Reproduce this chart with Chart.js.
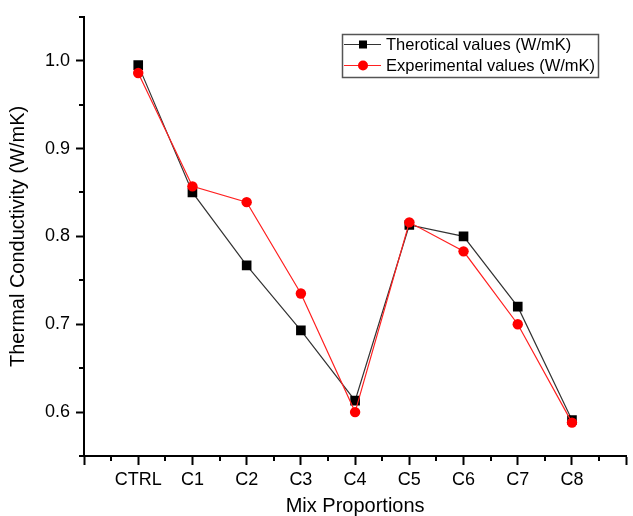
<!DOCTYPE html>
<html>
<head>
<meta charset="utf-8">
<script src="https://cdn.jsdelivr.net/npm/chart.js@4/dist/chart.umd.min.js"></script>
<style>
  html, body { margin: 0; padding: 0; background: #fff; }
  #wrap { width: 633px; height: 516px; }
</style>
</head>
<body>
<div id="wrap"><canvas id="myChart" width="633" height="516"></canvas></div>
<script>
const ctx = document.getElementById('myChart').getContext('2d');

const categories = ["CTRL", "C1", "C2", "C3", "C4", "C5", "C6", "C7", "C8"];
const theoretical = [0.995, 0.850, 0.767, 0.693, 0.613, 0.813, 0.800, 0.720, 0.591];
const experimental = [0.986, 0.857, 0.839, 0.735, 0.600, 0.816, 0.783, 0.700, 0.588];
const yTickLabels = ["0.6", "0.7", "0.8", "0.9", "1.0"];

const FONT = "'Liberation Sans', Arial, sans-serif";

// x runs one slot past each end, ticks every half slot
const xMin = -1, xMax = categories.length;
const yMin = 0.55, yMax = 1.05;

function isMajorX(v) { return Math.abs(v - Math.round(v)) < 1e-6; }
function isMajorY(v) { return yTickLabels.some(l => Math.abs(parseFloat(l) - v) < 1e-6); }

// short minor ticks drawn outside the axes
const minorTicks = {
    id: 'minorTicks',
    afterDraw(chart) {
        const c = chart.ctx;
        const xs = chart.scales.x, ys = chart.scales.y;
        c.save();
        c.strokeStyle = '#000';
        c.lineWidth = 2;
        c.beginPath();
        xs.ticks.forEach(t => {
            if (isMajorX(t.value)) return;
            const px = Math.round(xs.getPixelForValue(t.value));
            c.moveTo(px, xs.top);
            c.lineTo(px, xs.top + 5);
        });
        ys.ticks.forEach(t => {
            if (isMajorY(t.value)) return;
            const py = Math.round(ys.getPixelForValue(t.value));
            c.moveTo(ys.right, py);
            c.lineTo(ys.right - 5, py);
        });
        c.stroke();
        c.restore();
    }
};

// boxed legend in the upper right
const boxLegend = {
    id: 'boxLegend',
    afterDraw(chart) {
        const c = chart.ctx;
        const x0 = 342, y0 = 34, w = 256, h = 43;
        c.save();
        c.fillStyle = '#fff';
        c.fillRect(x0, y0, w, h);
        c.strokeStyle = '#555';
        c.lineWidth = 1.5;
        c.strokeRect(x0 + 0.5, y0 + 0.5, w, h);
        const rows = [
            { ds: chart.data.datasets[0], y: 44.5 },
            { ds: chart.data.datasets[1], y: 65.5 }
        ];
        c.font = '16.5px ' + FONT;
        c.textBaseline = 'middle';
        rows.forEach(r => {
            c.strokeStyle = r.ds.borderColor;
            c.lineWidth = 1;
            c.beginPath();
            c.moveTo(344, r.y);
            c.lineTo(381, r.y);
            c.stroke();
            c.fillStyle = r.ds.pointBackgroundColor;
            if (r.ds.pointStyle === 'rect') {
                c.fillRect(359, r.y - 4, 8, 8);
            } else {
                c.beginPath();
                c.arc(363, r.y, 5, 0, Math.PI * 2);
                c.fill();
            }
            c.fillStyle = '#000';
            c.fillText(r.ds.label, 386, r.y + 1);
        });
        c.restore();
    }
};

const data = {
    datasets: [{
        label: "Therotical values (W/mK)",
        data: theoretical.map((v, i) => ({ x: i, y: v })),
        borderColor: "#333",
        borderWidth: 1.2,
        pointStyle: 'rect',
        pointRadius: 6.8,
        pointBackgroundColor: "#000",
        pointBorderWidth: 0,
        order: 2
    }, {
        label: "Experimental values (W/mK)",
        data: experimental.map((v, i) => ({ x: i, y: v })),
        borderColor: "#ff2020",
        borderWidth: 1.2,
        pointStyle: 'circle',
        pointRadius: 5.2,
        pointBackgroundColor: "#ff0000",
        pointBorderWidth: 0,
        order: 1
    }]
};

const config = {
    type: "line",
    data: data,
    plugins: [minorTicks, boxLegend],
    options: {
        responsive: false,
        animation: false,
        layout: { padding: { top: 15, right: 4, left: 0, bottom: 0 } },
        plugins: {
            legend: { display: false },
            tooltip: { enabled: false }
        },
        scales: {
            x: {
                type: 'linear',
                min: xMin,
                max: xMax,
                afterBuildTicks(scale) {
                    const t = [];
                    for (let v = xMin; v <= xMax + 1e-9; v += 0.5) t.push({ value: v });
                    scale.ticks = t;
                },
                afterFit(scale) { scale.height = 60; },
                border: { display: true, color: '#000', width: 2 },
                grid: {
                    drawOnChartArea: false,
                    drawTicks: true,
                    tickLength: 9,
                    tickWidth: 2,
                    tickColor: c => isMajorX(c.tick.value) ? '#000' : 'rgba(0,0,0,0)'
                },
                ticks: {
                    autoSkip: false,
                    maxRotation: 0,
                    padding: 4,
                    color: '#000',
                    font: { family: FONT, size: 18 },
                    callback: v => {
                        const i = Math.round(v);
                        return (isMajorX(v) && categories[i] !== undefined) ? categories[i] : '';
                    }
                },
                title: {
                    display: true,
                    text: 'Mix Proportions',
                    color: '#000',
                    font: { family: FONT, size: 20 },
                    padding: { top: 0, bottom: -2 }
                }
            },
            y: {
                min: yMin,
                max: yMax,
                afterBuildTicks(scale) {
                    const t = [];
                    for (let k = 0; k <= 10; k++) t.push({ value: Math.round((yMin + k * 0.05) * 100) / 100 });
                    scale.ticks = t;
                },
                afterFit(scale) { scale.width = 84; },
                border: { display: true, color: '#000', width: 2 },
                grid: {
                    drawOnChartArea: false,
                    drawTicks: true,
                    tickLength: 8,
                    tickWidth: 2,
                    tickColor: c => isMajorY(c.tick.value) ? '#000' : 'rgba(0,0,0,0)'
                },
                ticks: {
                    padding: 6,
                    color: '#000',
                    font: { family: FONT, size: 18 },
                    callback: v => {
                        const l = yTickLabels.find(s => Math.abs(parseFloat(s) - v) < 1e-6);
                        return l || '';
                    }
                },
                title: {
                    display: true,
                    text: 'Thermal Conductivity (W/mK)',
                    color: '#000',
                    font: { family: FONT, size: 20 },
                    padding: { top: 6, bottom: 0 }
                }
            }
        }
    }
};

const myChart = new Chart(ctx, config);
</script>
</body>
</html>
